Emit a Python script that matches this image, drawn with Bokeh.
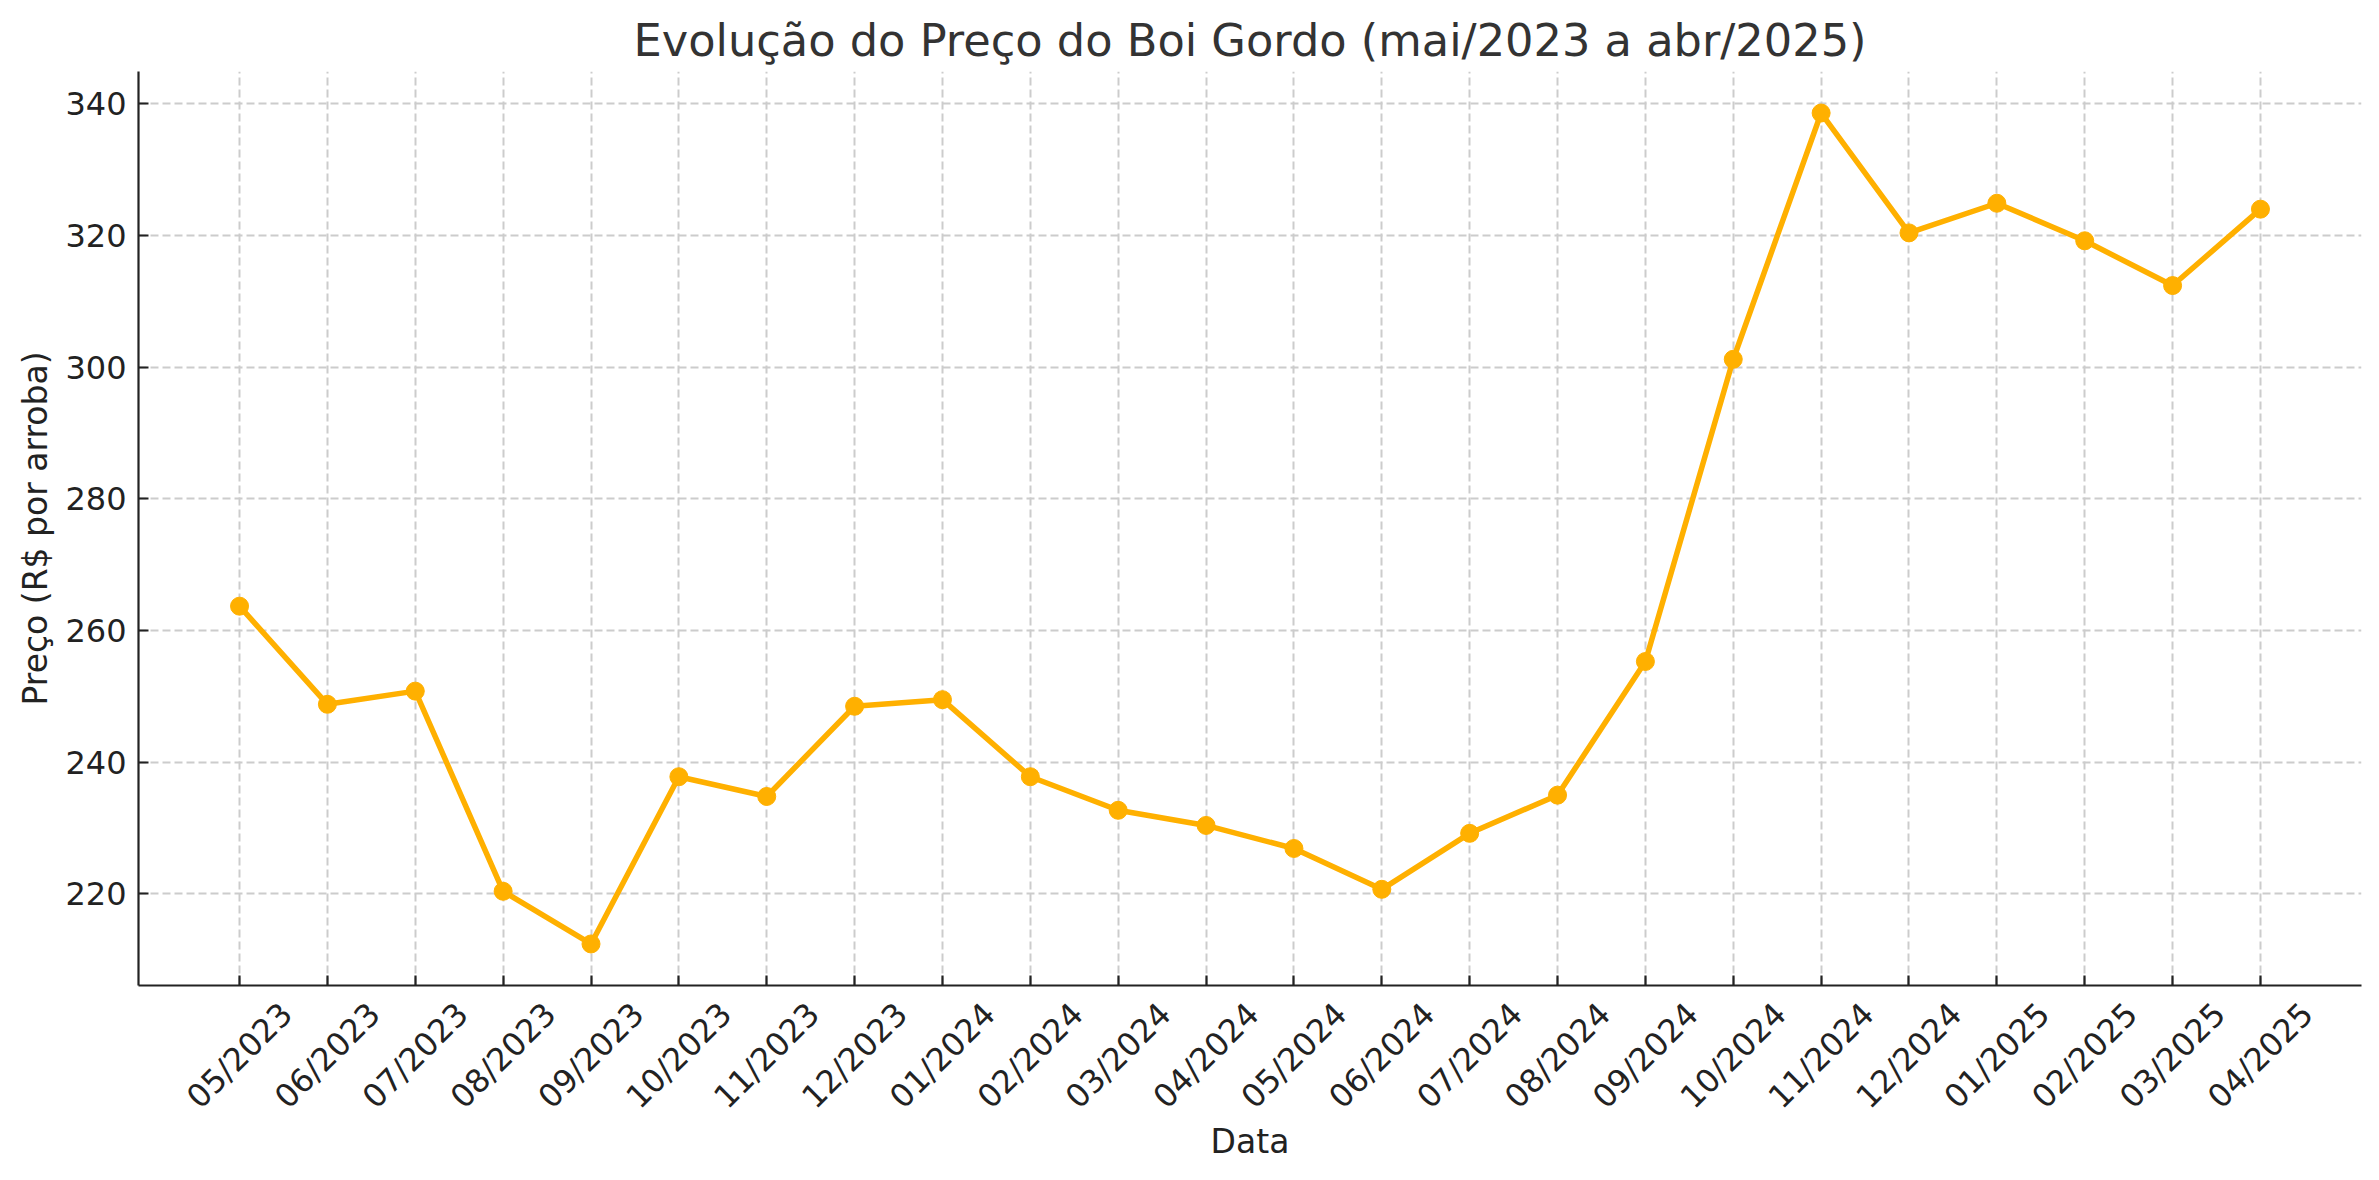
import math
from bokeh.plotting import figure
from bokeh.layouts import column
from bokeh.models import Range1d, FixedTicker, ColumnDataSource
from bokeh.core.properties import value
from bokeh.embed import file_html
from bokeh.resources import INLINE

months = ["05/2023", "06/2023", "07/2023", "08/2023", "09/2023", "10/2023",
          "11/2023", "12/2023", "01/2024", "02/2024", "03/2024", "04/2024",
          "05/2024", "06/2024", "07/2024", "08/2024", "09/2024", "10/2024",
          "11/2024", "12/2024", "01/2025", "02/2025", "03/2025", "04/2025"]
prices = [263.7, 248.8, 250.8, 220.4, 212.4, 237.8, 234.8, 248.5, 249.5,
          237.8, 232.7, 230.4, 226.9, 220.7, 229.2, 235.0, 255.3, 301.2,
          338.6, 320.4, 324.9, 319.2, 312.4, 324.0]
y_ticks = [220, 240, 260, 280, 300, 320, 340]

title_text = "Evolução do Preço do Boi Gordo (mai/2023 a abr/2025)"
x_label = "Data"
y_label = "Preço (R$ por arroba)"

idx = list(range(len(months)))
src = ColumnDataSource(dict(x=idx, y=prices, label=months))

n = len(months) - 1
x_pad = 0.05 * n
y_lo, y_hi = min(prices), max(prices)
y_pad = 0.05 * (y_hi - y_lo)

FONT = "DejaVu Sans"
LINE = "#FFB000"
TXT = "#222222"
W = 2363
H_MAIN = 988
H_LAB = 1164 - H_MAIN
LEFT = 138
RIGHT = 2

xr = Range1d(-x_pad, n + x_pad)

p = figure(width=W, height=H_MAIN, output_backend="svg", toolbar_location=None,
           x_range=xr, y_range=Range1d(y_lo - y_pad, y_hi + y_pad),
           min_border_left=LEFT, min_border_right=RIGHT,
           min_border_top=71, min_border_bottom=3)
p.outline_line_color = None
p.background_fill_color = "white"
p.border_fill_color = "white"

p.title.text = title_text
p.title.align = "center"
p.title.text_font = FONT
p.title.text_font_size = "44.7px"
p.title.text_font_style = "normal"
p.title.text_color = "#333333"

for g in (p.xgrid, p.ygrid):
    g.grid_line_color = "#cccccc"
    g.grid_line_width = 2
    g.grid_line_dash = "8 4"

for ax in (p.xaxis, p.yaxis):
    ax.axis_line_color = TXT
    ax.axis_line_width = 2.2
    ax.major_tick_line_color = TXT
    ax.major_tick_line_width = 2.2
    ax.major_tick_out = 0
    ax.major_tick_in = 10
    ax.minor_tick_line_color = None
    ax.major_label_text_font = FONT
    ax.major_label_text_font_size = "32px"
    ax.major_label_text_color = TXT
    ax.axis_label_text_font = FONT
    ax.axis_label_text_font_size = "33px"
    ax.axis_label_text_font_style = "normal"
    ax.axis_label_text_color = TXT

p.yaxis.ticker = FixedTicker(ticks=y_ticks)
p.yaxis.major_label_standoff = 12
p.yaxis.axis_label = y_label
p.yaxis.axis_label_standoff = 7

p.xaxis.ticker = FixedTicker(ticks=idx)
p.xaxis.major_label_overrides = {i: "" for i in idx}
p.xaxis.major_label_text_font_size = "0px"
p.xaxis.major_label_standoff = 0

p.line("x", "y", source=src, line_color=LINE, line_width=5.5)
p.scatter("x", "y", source=src, size=18, fill_color=LINE, line_color=LINE)

# strip below the plot holding the rotated month labels and the x-axis title
q = figure(width=W, height=H_LAB, output_backend="svg", toolbar_location=None,
           x_range=xr, y_range=Range1d(0, H_LAB),
           x_axis_type=None, y_axis_type=None,
           min_border_left=LEFT, min_border_right=RIGHT,
           min_border_top=0, min_border_bottom=0)
q.outline_line_color = None
q.xgrid.visible = False
q.ygrid.visible = False
q.border_fill_color = "white"
q.background_fill_color = "white"

label_row = H_LAB - (1055 - H_MAIN)
title_row = H_LAB - (1141 - H_MAIN)
lab_src = ColumnDataSource(dict(x=idx, y=[label_row] * len(idx), label=months))
q.text("x", "y", text="label", source=lab_src, angle=math.pi / 4,
       text_align="center", text_baseline="middle",
       text_font=value(FONT), text_font_size="32px", text_color=TXT)
q.text(x=[n / 2], y=[title_row], text=[x_label],
       text_align="center", text_baseline="middle",
       text_font=value(FONT), text_font_size="33px", text_color=TXT)

layout = column(p, q, spacing=0)
open("out.html", "w").write(file_html(layout, INLINE))
